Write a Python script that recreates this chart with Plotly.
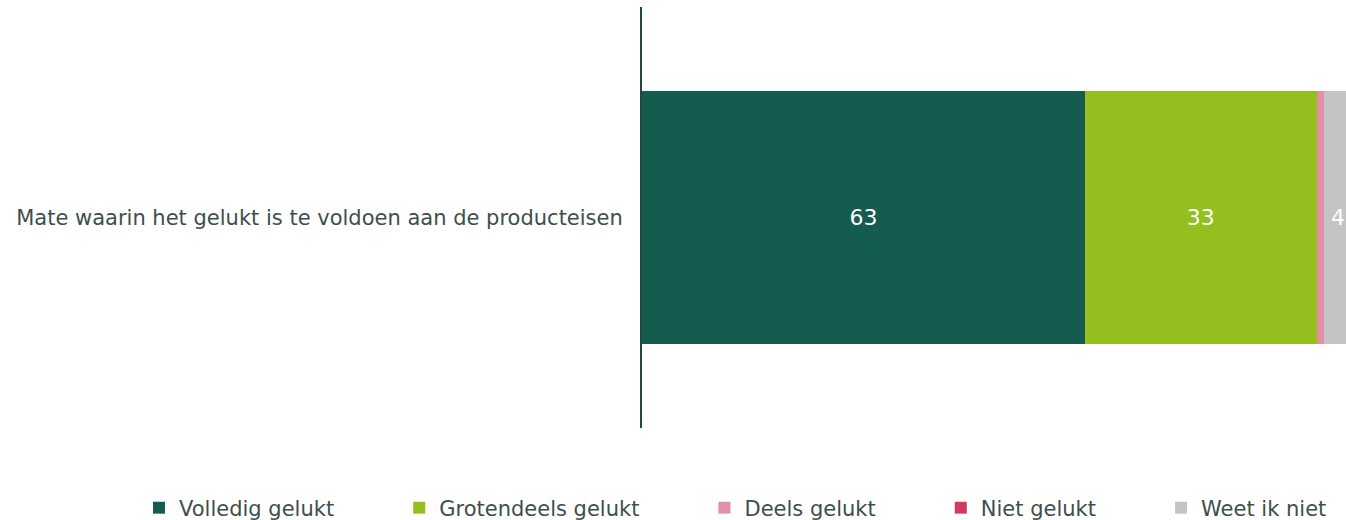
import plotly.graph_objects as go

categories = ["Mate waarin het gelukt is te voldoen aan de producteisen"]
series_names = ["Volledig gelukt", "Grotendeels gelukt", "Deels gelukt", "Niet gelukt", "Weet ik niet"]
series_values = [[63], [33], [1], [0], [4]]
series_colors = ["#135c4f", "#93c01f", "#e38fa7", "#d23a64", "#c4c4c4"]

TEXT_COLOR = "#3d4f4a"
FONT = "DejaVu Sans"
PAD = "\u00a0" * 9

FIG_W = 1352
PLOT_L = 642
PLOT_W = FIG_W - PLOT_L

fig = go.Figure()
for i, (name, vals, col) in enumerate(zip(series_names, series_values, series_colors)):
    labels = [str(v) if v >= 3 else "" for v in vals]
    legend_name = name + (PAD if i < len(series_names) - 1 else "")
    fig.add_trace(go.Bar(
        y=categories, x=vals, name=legend_name, orientation="h",
        marker=dict(color=col, line=dict(width=0)),
        text=labels, textposition="inside", insidetextanchor="middle",
        textangle=0, constraintext="none", cliponaxis=False,
        textfont=dict(color="white", size=22, family=FONT),
        hoverinfo="skip",
    ))

fig.update_layout(
    width=FIG_W, height=520,
    barmode="stack", bargap=0.4,
    plot_bgcolor="white", paper_bgcolor="white",
    margin=dict(l=PLOT_L, r=0, t=7, b=92, autoexpand=False),
    font=dict(family=FONT, size=21, color=TEXT_COLOR),
    xaxis=dict(range=[0, 101], visible=False, fixedrange=True),
    yaxis=dict(showline=True, linecolor="#1f4a40", linewidth=2, ticks="",
               showgrid=False, ticklabelstandoff=13, fixedrange=True,
               tickfont=dict(size=21, color=TEXT_COLOR, family=FONT)),
    showlegend=True,
    legend=dict(orientation="h", xref="paper", yref="paper",
                x=(139 - PLOT_L) / PLOT_W, xanchor="left", y=-0.19, yanchor="middle",
                font=dict(size=21, color=TEXT_COLOR, family=FONT),
                traceorder="normal"),
)

fig.write_html(
    "out.html",
    config={"displayModeBar": False},
    post_script="document.body.style.margin='0px';document.body.style.overflow='hidden';document.documentElement.style.overflow='hidden';",
)
